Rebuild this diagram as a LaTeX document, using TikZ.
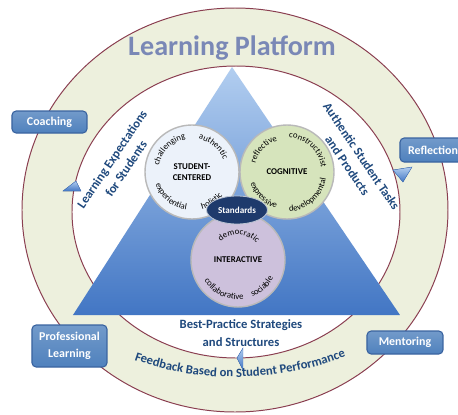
\documentclass[tikz,border=0pt]{standalone}
\usepackage{fontspec}
\setmainfont{Carlito}
\usepackage{xcolor}
\definecolor{ring}{RGB}{237,240,221}
\definecolor{rim}{RGB}{138,62,80}
\definecolor{title}{RGB}{122,136,182}
\definecolor{navy}{RGB}{31,73,125}
\definecolor{boxblue}{RGB}{79,129,189}
\definecolor{boxedge}{RGB}{58,100,160}
\definecolor{triTop}{RGB}{178,206,240}
\definecolor{triMid}{RGB}{100,148,214}
\definecolor{triBottom}{RGB}{66,118,196}
\definecolor{studentFill}{RGB}{236,242,250}
\definecolor{cognitiveFill}{RGB}{214,228,188}
\definecolor{interactiveFill}{RGB}{205,193,220}
\definecolor{standardsFill}{RGB}{30,58,108}
\usepackage{tikz}
\usetikzlibrary{
    shapes.geometric,
    arrows.meta,
    positioning,
    calc,
    decorations.text
}

\tikzset{
    platformbox/.style={draw=boxedge, line width=0.8pt, rounded corners=3pt,
        top color=boxblue!80!white, bottom color=boxblue, text=white,
        font=\fontsize{8.5}{12.5}\selectfont\bfseries, align=center,
        minimum width=1.875cm, minimum height=0.55cm},
    sidetext/.style={text=navy, font=\fontsize{9}{12}\selectfont\bfseries, align=center},
    pillar/.style={circle, draw=gray!55, line width=1pt, minimum size=2.35cm,
        font=\fontsize{6.3}{8}\selectfont\bfseries, align=center},
    pointer/.style={top color=triTop, bottom color=triBottom, draw=triBottom, line width=0.3pt},
}

% words bent round the top and the bottom of a circle
\newcommand{\wordabove}[4]{%
  \path[decorate, decoration={text along path, text align=center,
      text={|\fontsize{6.2}{7}\selectfont|#4}}]
      (#1.center) ++(#2+60:#3) arc[start angle=#2+60, end angle=#2-60, radius=#3];}
\newcommand{\wordbelow}[4]{%
  \path[decorate, decoration={text along path, text align=center,
      text={|\fontsize{6.2}{7}\selectfont|#4}}]
      (#1.center) ++(#2-60:#3) arc[start angle=#2-60, end angle=#2+60, radius=#3];}

\begin{document}
\begin{tikzpicture}
    \useasboundingbox (-5.875,-5.1) rectangle (5.575,5.25);
    \draw[rim, line width=0.7pt, fill=ring] (0,0) ellipse [x radius=5.325, y radius=5.05];
    \draw[rim, line width=0.7pt, fill=white] (0.025,-0.05) ellipse [x radius=4.1, y radius=3.65];
    \shade[top color=triTop, middle color=triMid, bottom color=triBottom]
        (-0.075,3.575) -- (4.125,-2.625) -- (-4.05,-2.625) -- cycle;

    \node[font=\fontsize{20}{24}\selectfont\bfseries, text=title] (platform) at (-0.075,4.05) {Learning Platform};

    \filldraw[pointer] (-4.3,0.475) -- (-3.85,0.475) -- (-3.975,0.725) -- cycle;
    \filldraw[pointer] (3.95,1.0) -- (4.425,1.075) -- (4.2,0.7) -- cycle;
    \filldraw[pointer] (0.05,-3.7) -- (0.2,-3.45) -- (0.2,-4.0) -- cycle;

    \node[platformbox] (coaching) at (-4.6375,2.2) {Coaching};
    \node[platformbox, minimum width=1.65cm, minimum height=0.6cm] (reflection) at (4.95,1.5) {Reflection};
    \node[platformbox, minimum height=1.05cm] (profLearning) at (-4.1375,-3.4) {Professional\\Learning};
    \node[platformbox, minimum width=1.9cm, minimum height=0.575cm] (mentoring) at (4.25,-3.3125) {Mentoring};

    \node[sidetext, rotate=56] (expectations) at (-2.9,1.15) {Learning Expectations\\for Students};
    \node[sidetext, rotate=-56] (tasks) at (2.99,1.225) {Authentic Student Tasks\\and Products};
    \node[sidetext, font=\fontsize{9}{12.8}\selectfont\bfseries] (practice) at (0.15,-3.075) {Best-Practice Strategies\\and Structures};
    \path[decorate, decoration={text along path, text align=center, text color=navy,
        text={|\fontsize{9}{10}\selectfont\bfseries|Feedback Based on Student Performance}}]
        (0,3.525) ++(241:7.7) arc[start angle=241, end angle=301, radius=7.7];

    \node[pillar, fill=studentFill] (student) at (-1.075,0.95) {STUDENT-\\CENTERED};
    \node[pillar, fill=cognitiveFill] (cognitive) at (1.3,0.95) {COGNITIVE};
    \node[pillar, fill=interactiveFill] (interactive) at (0.075,-1.25) {INTERACTIVE};

    \wordabove{student}{135}{0.84}{challenging}
    \wordabove{student}{50}{0.84}{authentic}
    \wordbelow{student}{230}{0.96}{experiential}
    \wordbelow{student}{304}{0.96}{holistic}
    \wordabove{cognitive}{136}{0.82}{reflective}
    \wordabove{cognitive}{47}{0.86}{constructivist}
    \wordbelow{cognitive}{225}{0.95}{expressive}
    \wordbelow{cognitive}{312}{0.99}{developmental}
    \wordabove{interactive}{88}{0.63}{democratic}
    \wordbelow{interactive}{245}{0.99}{collaborative}
    \wordbelow{interactive}{312}{0.99}{sociable}

    \node[ellipse, fill=standardsFill, draw=white!70!standardsFill, line width=0.6pt,
        minimum width=1.525cm, minimum height=0.7cm, inner sep=1pt,
        text=white, font=\fontsize{6.5}{8}\selectfont\bfseries] (standards) at (0.05,0) {Standards};
\end{tikzpicture}
\end{document}
